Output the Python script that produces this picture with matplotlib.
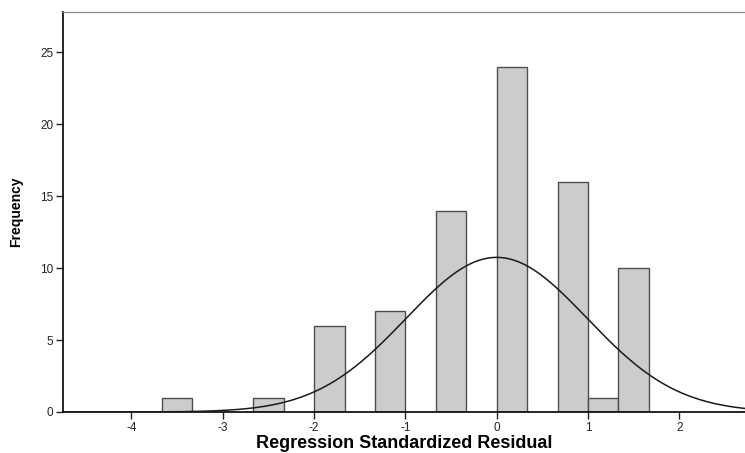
import numpy as np
import matplotlib
matplotlib.use("Agg")
import matplotlib.pyplot as plt

plt.rcParams["font.family"] = ["Liberation Sans", "DejaVu Sans"]
plt.rcParams["axes.unicode_minus"] = False

# Histogram bins (width 1/3) and counts
bin_width = 1 / 3
bin_left = [-11 / 3, -8 / 3, -6 / 3, -4 / 3, -2 / 3, 0.0, 2 / 3, 3 / 3, 4 / 3]
counts = [1, 1, 6, 7, 14, 24, 16, 1, 10]

# Normal curve parameters
curve_mean = 0.0
curve_std = 0.99
n_total = sum(counts)

xticks = [-4, -3, -2, -1, 0, 1, 2]
yticks = [0, 5, 10, 15, 20, 25]

fig = plt.figure(figsize=(7.45, 4.53), dpi=100)
ax = fig.add_axes([63 / 745, 41 / 453, 1 - 63 / 745, 400 / 453])

ax.bar(bin_left, counts, width=bin_width, align="edge",
       color="#cccccc", edgecolor="#4d4d4d", linewidth=1.0, zorder=2)

xs = np.linspace(-4.8, 2.8, 400)
ys = n_total * bin_width / (curve_std * np.sqrt(2 * np.pi)) * \
    np.exp(-0.5 * ((xs - curve_mean) / curve_std) ** 2)
ax.plot(xs, ys, color="#1a1a1a", linewidth=1.1, zorder=3)

ax.set_xlim(-4.75, 2.72)
ax.set_ylim(0, 27.8)
ax.set_xticks(xticks)
ax.set_yticks(yticks)
ax.tick_params(axis="both", labelsize=8.5, labelcolor="#222222",
               color="#222222", length=5, width=1, pad=2)

ax.spines["right"].set_visible(False)
ax.spines["top"].set_color("#888888")
ax.spines["top"].set_linewidth(0.9)
ax.spines["left"].set_linewidth(1.2)
ax.spines["bottom"].set_linewidth(1.2)

ax.set_xlabel("Regression Standardized Residual", fontsize=13,
              fontweight="bold", labelpad=1)
ax.set_ylabel("Frequency", fontsize=10, fontweight="bold", labelpad=12)

fig.savefig("out.png", dpi=100)
